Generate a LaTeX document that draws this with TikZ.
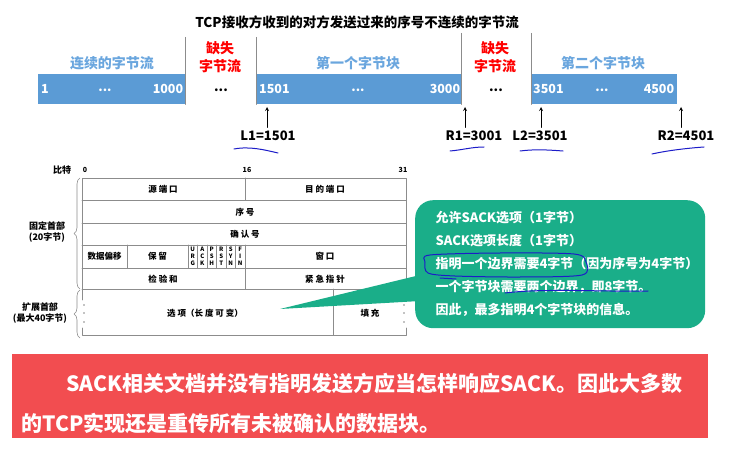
\documentclass[tikz,border=0pt]{standalone}
\usepackage{fontspec}
\setmainfont{Noto Sans CJK SC}
\usetikzlibrary{decorations.pathreplacing}
\definecolor{barblue}{HTML}{5B9BD5}
\definecolor{lblblue}{HTML}{6AA6DE}
\definecolor{sackgreen}{HTML}{1AAE89}
\definecolor{notered}{HTML}{F24D50}
\definecolor{ink}{HTML}{1C1CC8}
\definecolor{tgray}{HTML}{8C8C8C}
\begin{document}
\begin{tikzpicture}[>=stealth,line join=round,line cap=round,x=1pt,y=-1pt,
	blk/.style={fill=barblue,anchor=north west,minimum height=30pt,inner sep=0pt},
	num/.style={text=white,inner sep=0pt,font=\fontsize{12.5}{14}\selectfont\bfseries},
	lbl/.style={text=lblblue,font=\fontsize{14}{17}\selectfont\bfseries},
	miss/.style={text=red,align=center,font=\fontsize{14}{18}\selectfont\bfseries},
	edge/.style={font=\fontsize{13}{15}\selectfont\bfseries},
	tbl/.style={font=\fontsize{8.5}{10}\selectfont\bfseries},
	side/.style={align=center,font=\fontsize{9}{10.5}\selectfont\bfseries},
	flag/.style={align=center,inner sep=0pt,font=\fontsize{6}{6.8}\selectfont\bfseries},
	tline/.style={draw=tgray,line width=0.6pt},
	hand/.style={draw=ink,line width=1pt}]
	\useasboundingbox (0,0) rectangle (756,460);
	
	\node[font=\fontsize{13.5}{16}\selectfont\bfseries] (title) at (357,22) {TCP接收方收到的对方发送过来的序号不连续的字节流};
	
	% byte stream
	\node[blk,minimum width=147pt] (b0) at (38,74) {};
	\node[blk,minimum width=205pt] (b1) at (256,74) {};
	\node[blk,minimum width=146pt] (b2) at (531,74) {};
	\foreach \p/\a/\h in {b0/east/67,b1/west/67,b1/east/71,b2/west/71}
	\draw[tgray,line width=0.8pt] (\p.south \a) -- ++(0,-\h);
	
	\node[num,anchor=west] at ([xshift=3pt]b0.west) {1};
	\node[num] at (105,90) {...};
	\node[num,anchor=east] at ([xshift=-2pt]b0.east) {1000};
	\node[num,anchor=west] at ([xshift=3pt]b1.west) {1501};
	\node[num] at (358,90) {...};
	\node[num,anchor=east] at ([xshift=-1pt]b1.east) {3000};
	\node[num,anchor=west] at ([xshift=2pt]b2.west) {3501};
	\node[num] at (602,90) {...};
	\node[num,anchor=east] at ([xshift=-3pt]b2.east) {4500};
	
	\node[lbl] (t0) at (112,63) {连续的字节流};
	\node[lbl] (t1) at (358,63) {第一个字节块};
	\node[lbl] (t2) at (603,63) {第二个字节块};
	\foreach \n/\x in {m1/220,m2/495}{
		\node[miss] (\n) at (\x,57) {缺失\\字节流};
		\node[edge] at (\x+1,90) {...};
	}
	
	\foreach \n/\t/\x/\ax in {l1/L1=1501/268/267,r1/R1=3001/474/465,l2/L2=3501/540/541,r2/R2=4501/686/681}{
		\node[edge] (\n) at (\x,136) {\t};
		\coordinate (\n tip) at (\ax,107);
		\draw[->,line width=0.8pt] (\n tip |- \n.north) -- (\n tip);
	}
	\draw[hand] (234,149) .. controls (250,146) and (265,150) .. (278,153);
	\draw[hand] (450,151) .. controls (462,150) and (472,147) .. (484,147);
	\draw[hand] (520,151) .. controls (535,149) and (550,150) .. (563,151);
	\draw[hand] (652,154) .. controls (670,150) and (690,148) .. (704,147);
	
	% TCP header
	\node[side] (bit) at (62,170) {比特};
	\foreach \x/\b in {85/0,247/16,403/31}
	\node[font=\fontsize{7}{8}\selectfont\bfseries] at (\x,170) {\b};
	\draw[tline] (82,300) -- (82,178) -- (406,178) -- (406,300);
	\draw[tline] (82,328) -- (82,335) -- (406,335) -- (406,328);
	\foreach \y in {200,223,245,268,289}
	\draw[tline] (82,\y) -- (406,\y);
	\foreach \y/\Y in {178/200,245/289}
	\draw[tline] (245,\y) -- (245,\Y);
	\foreach \x in {127,188,197.5,207,216.5,226,235.5}
	\draw[tline] (\x,245) -- (\x,268);
	\draw[tline] (333,289) -- (333,335);
	\foreach \x in {84,404}
	\foreach \y in {305,313,322}
	\fill (\x,\y) circle (0.7);
	
	\node[tbl] at (163,189) {源 端 口};
	\node[tbl] at (325,189) {目 的 端 口};
	\node[tbl] at (245,212) {序 号};
	\node[tbl] at (245,234) {确 认 号};
	\node[tbl] at (104.5,256.5) {数据偏移};
	\node[tbl] at (157.5,256.5) {保 留};
	\node[tbl] at (325,256.5) {窗 口};
	\node[tbl] at (163,279) {检 验 和};
	\node[tbl] at (325,279) {紧 急 指 针};
	\node[tbl] at (205,313) {选 项（长 度 可 变）};
	\node[tbl] at (370,313) {填 充};
	\foreach \f [count=\i] in {{U\\R\\G},{A\\C\\K},{P\\S\\H},{R\\S\\T},{S\\Y\\N},{F\\I\\N}}
	\node[flag] at (188+9.5*\i-4.75,256.5) {\f};
	
	\draw[tline,decorate,decoration={brace,amplitude=6pt}] (80,289) -- (80,178);
	\draw[tline,decorate,decoration={brace,amplitude=6pt}] (80,338) -- (80,290);
	\node[side] (fix) at (47,232) {固定首部\\(20字节)};
	\node[side] (ext) at (40,313) {扩展首部\\(最大40字节)};
	
	% SACK callout
	\fill[sackgreen] (280,309) -- (420,275) -- (420,301) -- cycle;
	\node[fill=sackgreen,rounded corners=18pt,minimum width=290pt,minimum height=128pt,anchor=north west] (sack) at (415,200) {};
	\node[text=white,align=left,anchor=west,font=\fontsize{13}{23}\selectfont\bfseries] (sacktxt) at (432,264) {允许SACK选项（1字节）\\SACK选项长度（1字节）\\指明一个边界需要4字节（因为序号为4字节）\\一个字节块需要两个边界，即8字节。\\因此，最多指明4个字节块的信息。};
	\draw[hand] plot[smooth cycle] coordinates {(430,255) (500,253) (574,254) (586,262) (582,275) (520,277) (455,276) (428,273) (425,262)};
	\draw[hand] (440,278) -- (456,279);
	\draw[hand] (505,293) .. controls (545,288) and (605,292) .. (648,291);
	
	% note
	\node[fill=notered,minimum width=696pt,minimum height=84pt,anchor=north west,inner sep=0pt] (note) at (12,354) {};
	\node[text=white,anchor=west,font=\fontsize{21}{25}\selectfont\bfseries] (n1) at (63,383) {SACK相关文档并没有指明发送方应当怎样响应SACK。因此大多数};
	\node[text=white,anchor=west,font=\fontsize{21}{25}\selectfont\bfseries] (n2) at (18,423) {的TCP实现还是重传所有未被确认的数据块。};
\end{tikzpicture}
\end{document}
